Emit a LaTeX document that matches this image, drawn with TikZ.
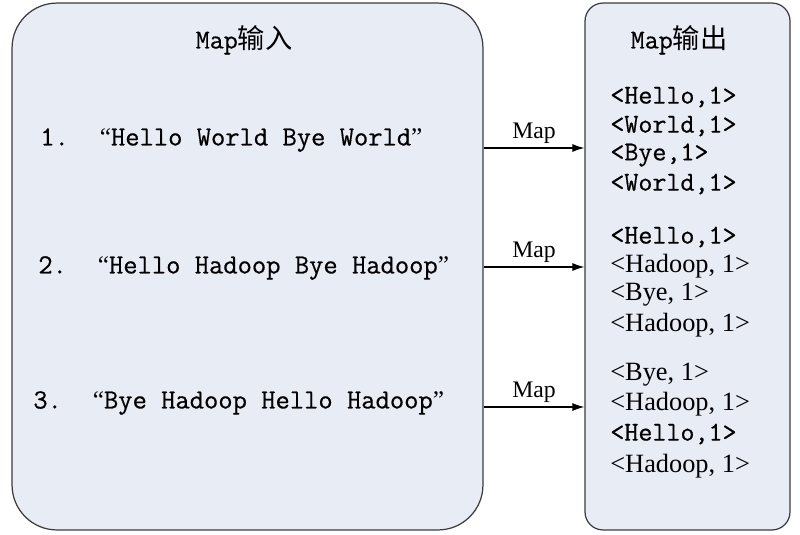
\documentclass[tikz,border=0pt]{standalone}
\usepackage{fontspec}
\usepackage{xcolor}
\usepackage{tikz}
\usetikzlibrary{arrows.meta}
\setmainfont{Liberation Serif}
\setmonofont{Latin Modern Mono}[FakeBold=0.5]
\newfontfamily\cjk{Noto Sans CJK SC}
\definecolor{panelfill}{HTML}{E8ECF4}
\definecolor{panelline}{HTML}{3C3C3C}

% full-width quote marks
\newcommand\oq{\makebox[1em][r]{\rmfamily\Large “}}
\newcommand\cq{\makebox[1em][l]{\rmfamily\Large ”}}

\tikzset{
  panel/.style={draw=panelline, fill=panelfill, line width=0.7pt, minimum height=10.54cm},
  paneltitle/.style={font=\fontsize{15.5}{18}\selectfont\ttfamily, inner sep=0pt},
  record/.style={font=\fontsize{15.8}{18}\selectfont\ttfamily, anchor=west, inner sep=0pt},
  pairmono/.style={font=\fontsize{15.5}{18}\selectfont\ttfamily, anchor=west, inner sep=0pt},
  pairserif/.style={font=\fontsize{15}{18}\selectfont\rmfamily, anchor=west, inner sep=0pt},
  maparrow/.style={-{Latex[length=2.4mm,width=1.6mm]}, line width=0.6pt},
  maplabel/.style={font=\fontsize{13.5}{16}\selectfont\rmfamily, above, inner sep=2.5pt}
}

\begin{document}
\begin{tikzpicture}[x=0.02cm, y=-0.02cm]

\useasboundingbox (0,0) rectangle (800,534);

% =========================
% PANELS
% =========================
\node[panel, rounded corners=0.9cm, minimum width=9.42cm] (inbox) at (247.5,266.5) {};
\node[panel, rounded corners=0.36cm, minimum width=4.1cm] (outbox) at (687.5,266.5) {};

\node[paneltitle] (intitle) at (244,40) {Map{\cjk 输入}};
\node[paneltitle] (outtitle) at (679,40) {Map{\cjk 输出}};

% =========================
% INPUT RECORDS
% =========================
\node[record] (rec1) at (40,140) {1. \oq Hello World Bye World\cq};
\node[record] (rec2) at (38,268) {2. \oq Hello Hadoop Bye Hadoop\cq};
\node[record] (rec3) at (33,403) {3. \oq Bye Hadoop Hello Hadoop\cq};

% =========================
% MAP ARROWS
% =========================
\coordinate (m1) at (0,148);
\coordinate (m2) at (0,267);
\coordinate (m3) at (0,407);

\draw[maparrow] (inbox.east |- m1) -- (outbox.west |- m1) node[midway, maplabel] {Map};
\draw[maparrow] (inbox.east |- m2) -- (outbox.west |- m2) node[midway, maplabel] {Map};
\draw[maparrow] (inbox.east |- m3) -- (outbox.west |- m3) node[midway, maplabel] {Map};

% =========================
% OUTPUT PAIRS
% =========================
\node[pairmono] (p1) at (610,97) {<Hello,1>};
\node[pairmono] (p2) at (610,126) {<World,1>};
\node[pairmono] (p3) at (610,155) {<Bye,1>};
\node[pairmono] (p4) at (610,184) {<World,1>};

\node[pairmono] (p5) at (610,237) {<Hello,1>};
\node[pairserif] (p6) at (610,266) {<Hadoop, 1>};
\node[pairserif] (p7) at (610,295) {<Bye, 1>};
\node[pairserif] (p8) at (610,325) {<Hadoop, 1>};

\node[pairserif] (p9) at (610,375) {<Bye, 1>};
\node[pairserif] (p10) at (610,404) {<Hadoop, 1>};
\node[pairmono] (p11) at (610,434) {<Hello,1>};
\node[pairserif] (p12) at (610,466) {<Hadoop, 1>};

\end{tikzpicture}
\end{document}
